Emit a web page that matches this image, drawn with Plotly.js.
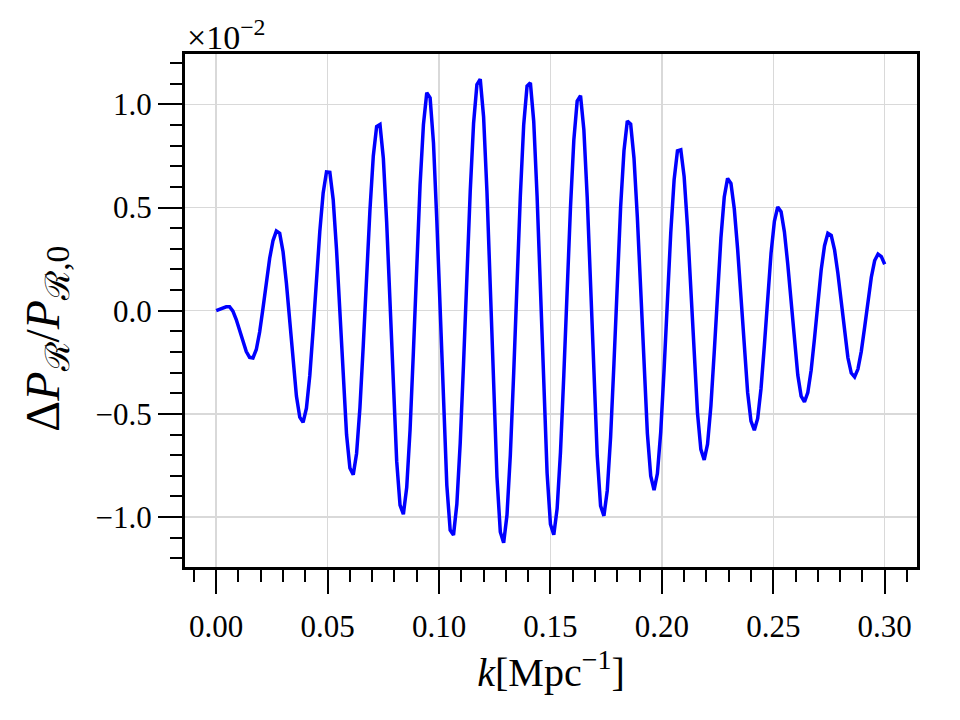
<!DOCTYPE html>
<html>
<head>
<meta charset="utf-8">
<script src="https://cdn.plot.ly/plotly-3.0.1.min.js"></script>
<style>html,body{margin:0;padding:0;background:#fff;}#chart{width:960px;height:720px;}</style>
</head>
<body>
<div id="chart"></div>
<script>
// k [Mpc^-1]
const kValues = [
0.0000,0.0015,0.0030,0.0045,0.0060,0.0075,0.0090,0.0105,0.0120,0.0135,
0.0150,0.0165,0.0180,0.0195,0.0210,0.0225,0.0240,0.0255,0.0270,0.0285,
0.0300,0.0315,0.0330,0.0345,0.0360,0.0375,0.0390,0.0405,0.0420,0.0435,
0.0450,0.0465,0.0480,0.0495,0.0510,0.0525,0.0540,0.0555,0.0570,0.0585,
0.0600,0.0615,0.0630,0.0645,0.0660,0.0675,0.0690,0.0705,0.0720,0.0735,
0.0750,0.0765,0.0780,0.0795,0.0810,0.0825,0.0840,0.0855,0.0870,0.0885,
0.0900,0.0915,0.0930,0.0945,0.0960,0.0975,0.0990,0.1005,0.1020,0.1035,
0.1050,0.1065,0.1080,0.1095,0.1110,0.1125,0.1140,0.1155,0.1170,0.1185,
0.1200,0.1215,0.1230,0.1245,0.1260,0.1275,0.1290,0.1305,0.1320,0.1335,
0.1350,0.1365,0.1380,0.1395,0.1410,0.1425,0.1440,0.1455,0.1470,0.1485,
0.1500,0.1515,0.1530,0.1545,0.1560,0.1575,0.1590,0.1605,0.1620,0.1635,
0.1650,0.1665,0.1680,0.1695,0.1710,0.1725,0.1740,0.1755,0.1770,0.1785,
0.1800,0.1815,0.1830,0.1845,0.1860,0.1875,0.1890,0.1905,0.1920,0.1935,
0.1950,0.1965,0.1980,0.1995,0.2010,0.2025,0.2040,0.2055,0.2070,0.2085,
0.2100,0.2115,0.2130,0.2145,0.2160,0.2175,0.2190,0.2205,0.2220,0.2235,
0.2250,0.2265,0.2280,0.2295,0.2310,0.2325,0.2340,0.2355,0.2370,0.2385,
0.2400,0.2415,0.2430,0.2445,0.2460,0.2475,0.2490,0.2505,0.2520,0.2535,
0.2550,0.2565,0.2580,0.2595,0.2610,0.2625,0.2640,0.2655,0.2670,0.2685,
0.2700,0.2715,0.2730,0.2745,0.2760,0.2775,0.2790,0.2805,0.2820,0.2835,
0.2850,0.2865,0.2880,0.2895,0.2910,0.2925,0.2940,0.2955,0.2970,0.2985,
0.3000
];
// Delta P_R / P_R,0 in units of 1e-2
const deltaP = [
0.000,0.007,0.013,0.019,0.019,-0.002,-0.043,-0.097,-0.152,-0.198,
-0.226,-0.229,-0.188,-0.103,0.012,0.137,0.254,0.340,0.386,0.375,
0.286,0.134,-0.056,-0.250,-0.414,-0.516,-0.541,-0.472,-0.314,-0.093,
0.155,0.384,0.571,0.673,0.671,0.539,0.296,-0.013,-0.330,-0.600,
-0.762,-0.795,-0.692,-0.471,-0.169,0.171,0.488,0.749,0.892,0.902,
0.740,0.429,0.031,-0.382,-0.729,-0.942,-0.986,-0.856,-0.578,-0.199,
0.222,0.611,0.902,1.056,1.032,0.815,0.440,-0.016,-0.471,-0.846,
-1.063,-1.087,-0.937,-0.643,-0.257,0.174,0.577,0.908,1.096,1.122,
0.939,0.578,0.101,-0.394,-0.806,-1.072,-1.125,-0.990,-0.700,-0.304,
0.143,0.559,0.901,1.089,1.104,0.917,0.557,0.094,-0.385,-0.787,
-1.035,-1.086,-0.959,-0.687,-0.312,0.108,0.503,0.828,1.016,1.042,
0.876,0.549,0.117,-0.332,-0.704,-0.946,-0.994,-0.872,-0.612,-0.256,
0.138,0.503,0.776,0.919,0.904,0.739,0.453,0.094,-0.277,-0.594,
-0.801,-0.869,-0.789,-0.587,-0.284,0.055,0.379,0.634,0.775,0.780,
0.650,0.408,0.100,-0.220,-0.496,-0.672,-0.723,-0.647,-0.462,-0.202,
0.087,0.352,0.551,0.641,0.617,0.494,0.299,0.058,-0.188,-0.397,
-0.535,-0.579,-0.522,-0.377,-0.169,0.064,0.279,0.433,0.503,0.480,
0.382,0.226,0.037,-0.154,-0.312,-0.414,-0.442,-0.397,-0.288,-0.134,
0.038,0.198,0.315,0.375,0.365,0.295,0.181,0.038,-0.106,-0.228,
-0.302,-0.321,-0.283,-0.197,-0.080,0.048,0.162,0.243,0.274,0.262,
0.225
];
const xTickVals = [0.00,0.05,0.10,0.15,0.20,0.25,0.30];
const yTickVals = [-1.0,-0.5,0.0,0.5,1.0];

const FONT = '"Liberation Serif", "DejaVu Serif", serif';

const trace = {
  x: kValues, y: deltaP, type: 'scatter', mode: 'lines',
  line: {color: '#0000ff', width: 3.5}, hoverinfo: 'skip'
};

const axisCommon = {
  showline: true, linecolor: '#000', linewidth: 3, mirror: true,
  ticks: 'outside', ticklen: 24, tickwidth: 2, tickcolor: '#000',
  showgrid: true, gridcolor: '#d9d9d9', gridwidth: 1.5,
  zeroline: false,
  tickfont: {family: FONT, size: 31, color: '#000'}
};

const layout = {
  width: 960, height: 720,
  paper_bgcolor: '#fff', plot_bgcolor: '#fff',
  margin: {l: 185, r: 43, t: 54, b: 153},
  showlegend: false,
  font: {family: FONT, color: '#000'},
  xaxis: Object.assign({}, axisCommon, {
    range: [-0.0140, 0.3145],
    tickmode: 'array', tickvals: xTickVals, tickformat: '.2f',
    ticklabelstandoff: 6,
    minor: {dtick: 0.01, tick0: 0, ticks: 'outside', ticklen: 12, tickwidth: 2, tickcolor: '#000', showgrid: false},
    title: {text: '<i>k</i>[Mpc<sup>−1</sup>]', font: {family: FONT, size: 40, color: '#000'}, standoff: 14}
  }),
  yaxis: Object.assign({}, axisCommon, {
    range: [-1.242, 1.244],
    tickmode: 'array', tickvals: yTickVals, tickformat: '.1f',
    minor: {dtick: 0.1, tick0: 0, ticks: 'outside', ticklen: 12, tickwidth: 2, tickcolor: '#000', showgrid: false}
  }),
  annotations: [{
    text: '×10<sup>−2</sup>', xref: 'paper', yref: 'paper', x: 0, y: 1,
    xanchor: 'left', yanchor: 'bottom', showarrow: false, yshift: -4, xshift: 0,
    font: {family: FONT, size: 34, color: '#000'}
  }, {
    text: 'Δ<i>P</i><sub>ℛ</sub>/<i>P</i><sub>ℛ,0</sub>', xref: 'paper', yref: 'paper',
    x: -0.191, y: 0.5, xanchor: 'center', yanchor: 'middle', textangle: -90,
    yshift: -28,
    showarrow: false, font: {family: FONT, size: 48, color: '#000'}
  }]
};

Plotly.newPlot('chart', [trace], layout, {staticPlot: true, displayModeBar: false});
</script>
</body>
</html>
